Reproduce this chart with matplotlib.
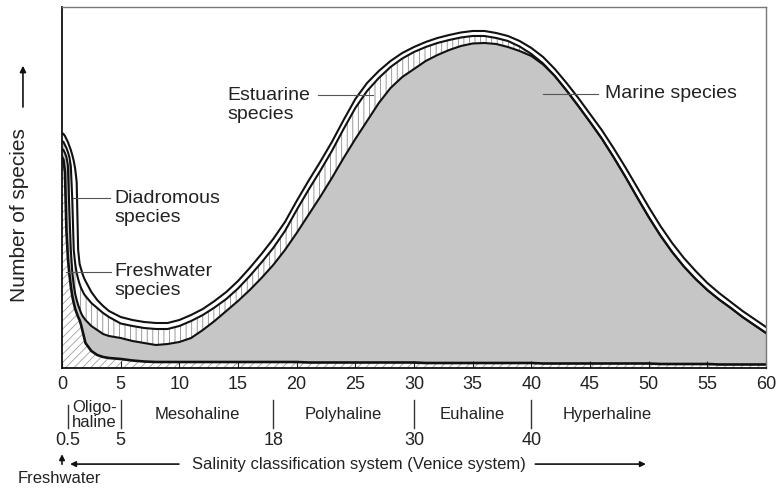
import numpy as np
import matplotlib.pyplot as plt
from matplotlib import transforms

plt.rcParams['font.family'] = ['Liberation Sans', 'DejaVu Sans']
plt.rcParams['hatch.linewidth'] = 0.6

# salinity (x) and the cumulative number of species (arbitrary units):
# each *_top list is the upper edge of that group in the stack
salinity = [0, 0.125, 0.25, 0.375, 0.5, 0.625, 0.75, 0.875, 1, 1.125, 1.25,
            1.375, 1.5, 1.625, 1.75, 1.875, 2, 2.5, 3, 3.5, 4] + list(range(5, 61))

fresh_top = [211, 208, 196, 138, 110, 94, 82, 72, 65, 59, 55, 51, 48, 43, 37,
             31, 25, 17, 13, 11, 10,
             9, 7.5, 6.5, 6, 6, 6, 6, 6, 6, 6, 6, 6, 6, 6, 6, 6,
             5.5, 5.5, 5.5, 5.5, 5.5, 5.5, 5.5, 5.5, 5.5, 5.5,
             5, 5, 5, 5, 5, 5, 5, 5, 5, 5,
             4.5, 4.5, 4.5, 4.5, 4.5, 4.5, 4.5, 4.5, 4.5, 4.5,
             4, 4, 4, 4, 4, 3.5, 3.5, 3.5, 3.5, 3.5]
marine_top = [219, 218, 215, 211, 203, 158, 118, 96, 83, 74, 68, 63, 59, 55,
              52, 50, 48, 42, 38, 34, 32,
              30, 27, 25, 23, 24, 26, 30, 38, 47, 57, 67, 78, 90, 103, 118,
              135, 153, 171, 190, 210, 229, 247, 265, 280, 291, 299, 307, 313,
              318, 322, 324.5, 325, 324, 321, 317, 312, 303.5,
              292, 277.5, 262, 246, 229.5, 211, 191.5, 171, 151, 132.5, 116,
              101.5, 89, 78, 68.5, 60, 51, 43, 35]
estuarine_top = [227, 226, 223, 220, 216, 211, 202, 168, 118, 104, 95, 89, 84,
                 80, 77, 74, 72, 65, 60, 55, 51,
                 44.5, 42, 40, 39, 39, 42, 47, 53, 60.5, 69, 79.5, 92, 105.5,
                 120, 137, 158, 178, 197, 217, 239, 260, 277, 290, 301, 309.5,
                 316, 321, 325, 328, 330.5, 332, 332, 330, 327, 321.5, 314,
                 304.5, 292, 277.5, 262, 246, 229.5, 211, 191.5, 171, 151,
                 132.5, 116, 101.5, 89, 78, 68.5, 60, 51, 43, 35]
diadromous_top = [235, 234, 232, 229, 226, 222, 218, 213, 207, 199, 186, 118,
                  104, 99, 94, 90, 87, 76, 68, 62, 57,
                  51, 48, 46, 45, 45, 48, 53, 59, 67, 76, 87, 100, 114, 129,
                  146, 167, 187, 206, 226, 248, 269, 285, 297, 307, 315, 321,
                  326, 330, 333, 335.5, 337, 337, 335, 332, 327, 320, 311, 299,
                  285, 270, 254, 238, 220, 201, 181, 161, 142, 125, 110, 97, 85,
                  75, 66, 57, 49, 41]

# Venice system
zone_bounds = [0.5, 5, 18, 30, 40]
zone_bound_labels = ["0.5", "5", "18", "30", "40"]
zone_labels = ["Oligo-\nhaline", "Mesohaline", "Polyhaline", "Euhaline", "Hyperhaline"]
zone_label_x = [2.75, 11.5, 24, 35, 46.5]

x = np.array(salinity, dtype=float)
top1 = np.array(fresh_top)
top2 = np.array(marine_top)
top3 = np.array(estuarine_top)
top4 = np.array(diadromous_top)

fig = plt.figure(figsize=(7.81, 4.88), dpi=100)
ax = fig.add_axes([0.0794, 0.2459, 0.9014, 0.7398])

ax.fill_between(x, 0, top1, facecolor='white', edgecolor='#a0a0a0', hatch='////', linewidth=0)
ax.fill_between(x, top1, top2, facecolor='#c6c6c6', linewidth=0)
ax.fill_between(x, top2, top3, facecolor='white', edgecolor='#8a8a8a', hatch='|||', linewidth=0)
ax.fill_between(x, top3, top4, facecolor='white', linewidth=0)
ax.plot(x, top1, color='#111111', lw=1.9, solid_joinstyle='round')
for y in (top2, top3, top4):
    ax.plot(x, y, color='#111111', lw=1.5, solid_joinstyle='round')

ax.set_xlim(0, 60)
ax.set_ylim(0, 361)
ax.set_xticks(range(0, 61, 5))
ax.set_yticks([])
ax.tick_params(axis='x', direction='in', length=5, width=0.8, pad=6,
               labelsize=13, colors='#222222')
for side in ('left', 'bottom'):
    ax.spines[side].set_color('#111111')
    ax.spines[side].set_linewidth(1.3)
for side in ('top', 'right'):
    ax.spines[side].set_color('#777777')
    ax.spines[side].set_linewidth(1.0)

# labels with leader lines
lead = dict(color='#555555', lw=0.8)
ax.plot([21.8, 26.5], [273, 273], **lead)
ax.text(14.1, 263, "Estuarine\nspecies", fontsize=14, va='center', ha='left', color='#222222')
ax.plot([41.0, 45.7], [274, 274], **lead)
ax.text(46.3, 274, "Marine species", fontsize=14, va='center', ha='left', color='#222222')
ax.plot([0.9, 4.1], [170, 170], **lead)
ax.text(4.5, 160, "Diadromous\nspecies", fontsize=14, va='center', ha='left', color='#222222')
ax.plot([0.35, 4.2], [96, 96], **lead)
ax.text(4.5, 87, "Freshwater\nspecies", fontsize=14, va='center', ha='left', color='#222222')

# y label with arrow
fig.text(0.0256, 0.5594, "Number of species", rotation=90, fontsize=15,
         ha='center', va='center', color='#222222')
fig.add_artist(plt.Annotation('', xy=(0.0294, 0.871), xytext=(0.0294, 0.775),
                              xycoords='figure fraction', textcoords='figure fraction',
                              arrowprops=dict(arrowstyle='-|>', color='#111111', lw=1.2,
                                              mutation_scale=9)))

# Venice classification rows below the axis
tr = transforms.blended_transform_factory(ax.transData, fig.transFigure)
for b in zone_bounds:
    y0 = 0.170 if b == 0.5 else 0.180
    ax.plot([b, b], [y0, 0.123], transform=tr, color='#333333', lw=1.0, clip_on=False)
for lx, lab in zip(zone_label_x, zone_labels):
    ax.text(lx, 0.150, lab, transform=tr, fontsize=12, ha='center', va='center',
            color='#222222', linespacing=1.0)
for b, lab in zip(zone_bounds, zone_bound_labels):
    ax.text(b, 0.098, lab, transform=tr, fontsize=13, ha='center', va='center', color='#222222')

arrow = dict(arrowstyle='-|>', color='#111111', lw=1.2, mutation_scale=8)
ax.annotate('', xy=(0.0, 0.075), xytext=(0.0, 0.043), xycoords=tr, textcoords=tr,
            arrowprops=arrow, annotation_clip=False)
ax.annotate('', xy=(0.45, 0.049), xytext=(10.2, 0.049), xycoords=tr, textcoords=tr,
            arrowprops=arrow, annotation_clip=False)
ax.annotate('', xy=(50.0, 0.049), xytext=(40.1, 0.049), xycoords=tr, textcoords=tr,
            arrowprops=arrow, annotation_clip=False)
ax.text(25.3, 0.049, "Salinity classification system (Venice system)", transform=tr,
        fontsize=12, ha='center', va='center', color='#222222')
ax.text(-0.2, 0.020, "Freshwater", transform=tr, fontsize=12, ha='center', va='center',
        color='#222222')

fig.savefig("out.png", dpi=100)
